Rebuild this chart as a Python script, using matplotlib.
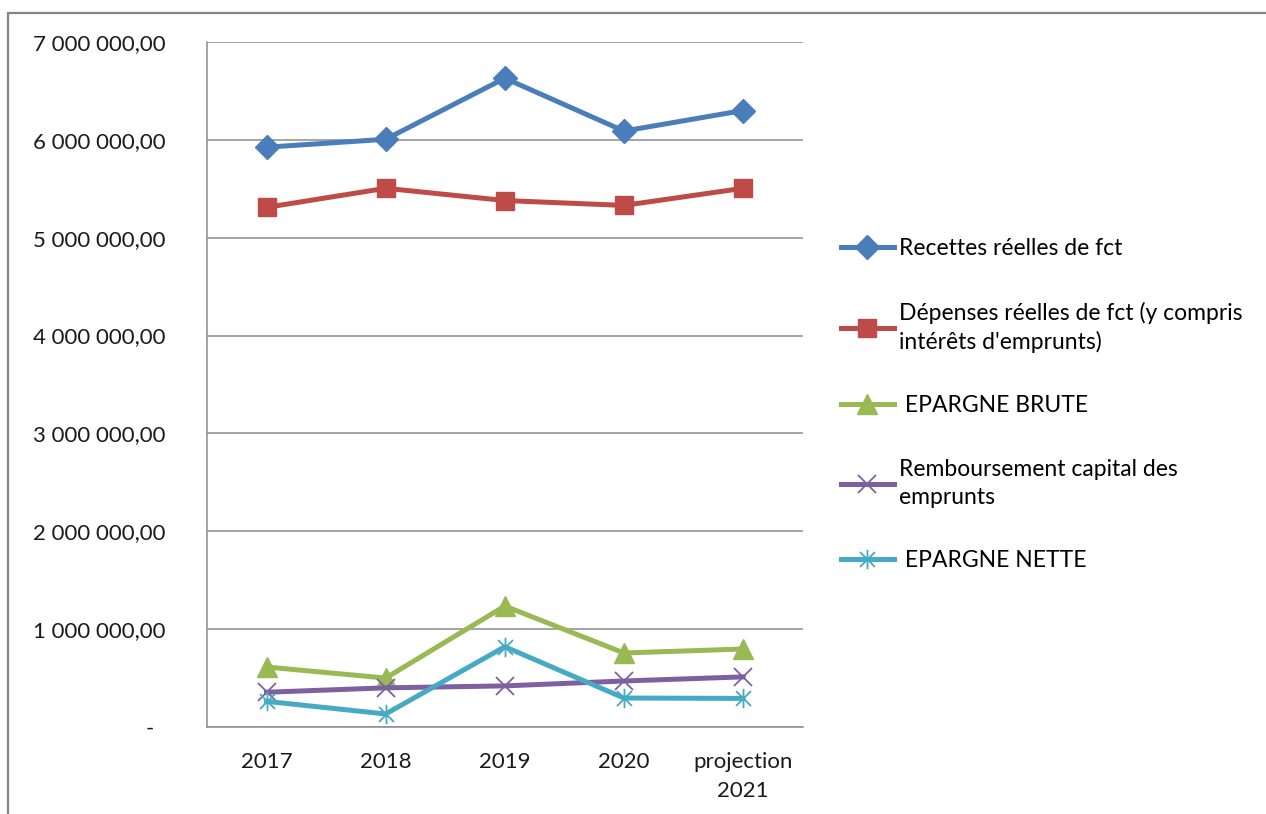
import numpy as np
import matplotlib.pyplot as plt
from matplotlib.path import Path
from matplotlib.patches import Rectangle
from matplotlib.ticker import FuncFormatter

plt.rcParams['font.family'] = ['Lato', 'DejaVu Sans']

# Données (en euros)
annees = ["2017", "2018", "2019", "2020", "projection\n2021"]
recettes = [5925000, 6006000, 6630000, 6090000, 6300000]
depenses = [5310000, 5505000, 5380000, 5330000, 5505000]
epargne_brute = [613000, 500000, 1236000, 756000, 797000]
remboursement = [355000, 400000, 420000, 470000, 512000]
epargne_nette = [262000, 133000, 820000, 296000, 292000]

# marqueur étoile façon Excel : une croix + un trait vertical
etoile = Path([(-1, -1), (1, 1), (-1, 1), (1, -1), (0, -1.3), (0, 1.3)],
              [Path.MOVETO, Path.LINETO, Path.MOVETO, Path.LINETO, Path.MOVETO, Path.LINETO])

series = [
    (recettes, "Recettes réelles de fct", "#4A7EBB", "D", 12.5, 1),
    (depenses, "Dépenses réelles de fct (y compris\nintérêts d'emprunts)", "#BE4B48", "s", 12.5, 1),
    (epargne_brute, " EPARGNE BRUTE", "#98B954", "^", 14, 1),
    (remboursement, "Remboursement capital des\nemprunts", "#7D60A0", "x", 12.5, 1.3),
    (epargne_nette, " EPARGNE NETTE", "#46AAC5", etoile, 14, 1.3),
]

fig = plt.figure(figsize=(12.66, 8.14), dpi=100)
ax = fig.add_axes([0.1635, 0.1069, 0.4705, 0.8415])

x = np.arange(len(annees))
for vals, nom, couleur, mk, ms, mew in series:
    ax.plot(x, vals, color=couleur, lw=3.6, marker=mk, markersize=ms,
            markeredgewidth=mew, markeredgecolor=couleur, label=nom,
            solid_joinstyle='round', clip_on=False, zorder=3)

ax.set_xlim(-0.5, len(annees) - 0.5)
ax.set_ylim(0, 7000000)
ax.set_yticks(np.arange(0, 7000001, 1000000))
ax.yaxis.set_major_formatter(FuncFormatter(
    lambda v, p: "-  " if v == 0 else f"{v:,.2f}".replace(",", " ").replace(".", ",")))
ax.set_xticks(x)
ax.set_xticklabels(annees)
for lab in ax.get_xticklabels():
    lab.set_linespacing(1.55)

ax.tick_params(axis='y', length=0, pad=30, labelsize=16, labelcolor='#1a1a1a')
ax.tick_params(axis='x', length=0, pad=18, labelsize=16, labelcolor='#1a1a1a')
ax.grid(axis='y', color='#8c8c8c', lw=1.1)
ax.set_axisbelow(True)
for cote in ['top', 'right']:
    ax.spines[cote].set_visible(False)
for cote in ['left', 'bottom']:
    ax.spines[cote].set_color('#8c8c8c')
    ax.spines[cote].set_linewidth(1.1)

leg = ax.legend(loc='center left', bbox_to_anchor=(0.657, 0.503), bbox_transform=fig.transFigure,
                frameon=False, fontsize=16.5, labelspacing=1.85, handlelength=2.3,
                handletextpad=0.25, borderaxespad=0)
for t in leg.get_texts():
    t.set_linespacing(1.4)

# cadre extérieur du graphique
fig.patches.append(Rectangle((8 / 1266, -0.2), 2, 1.2 - 13 / 814, transform=fig.transFigure,
                             fill=False, edgecolor='#868686', lw=1.6))

plt.savefig('out.png', dpi=100)
